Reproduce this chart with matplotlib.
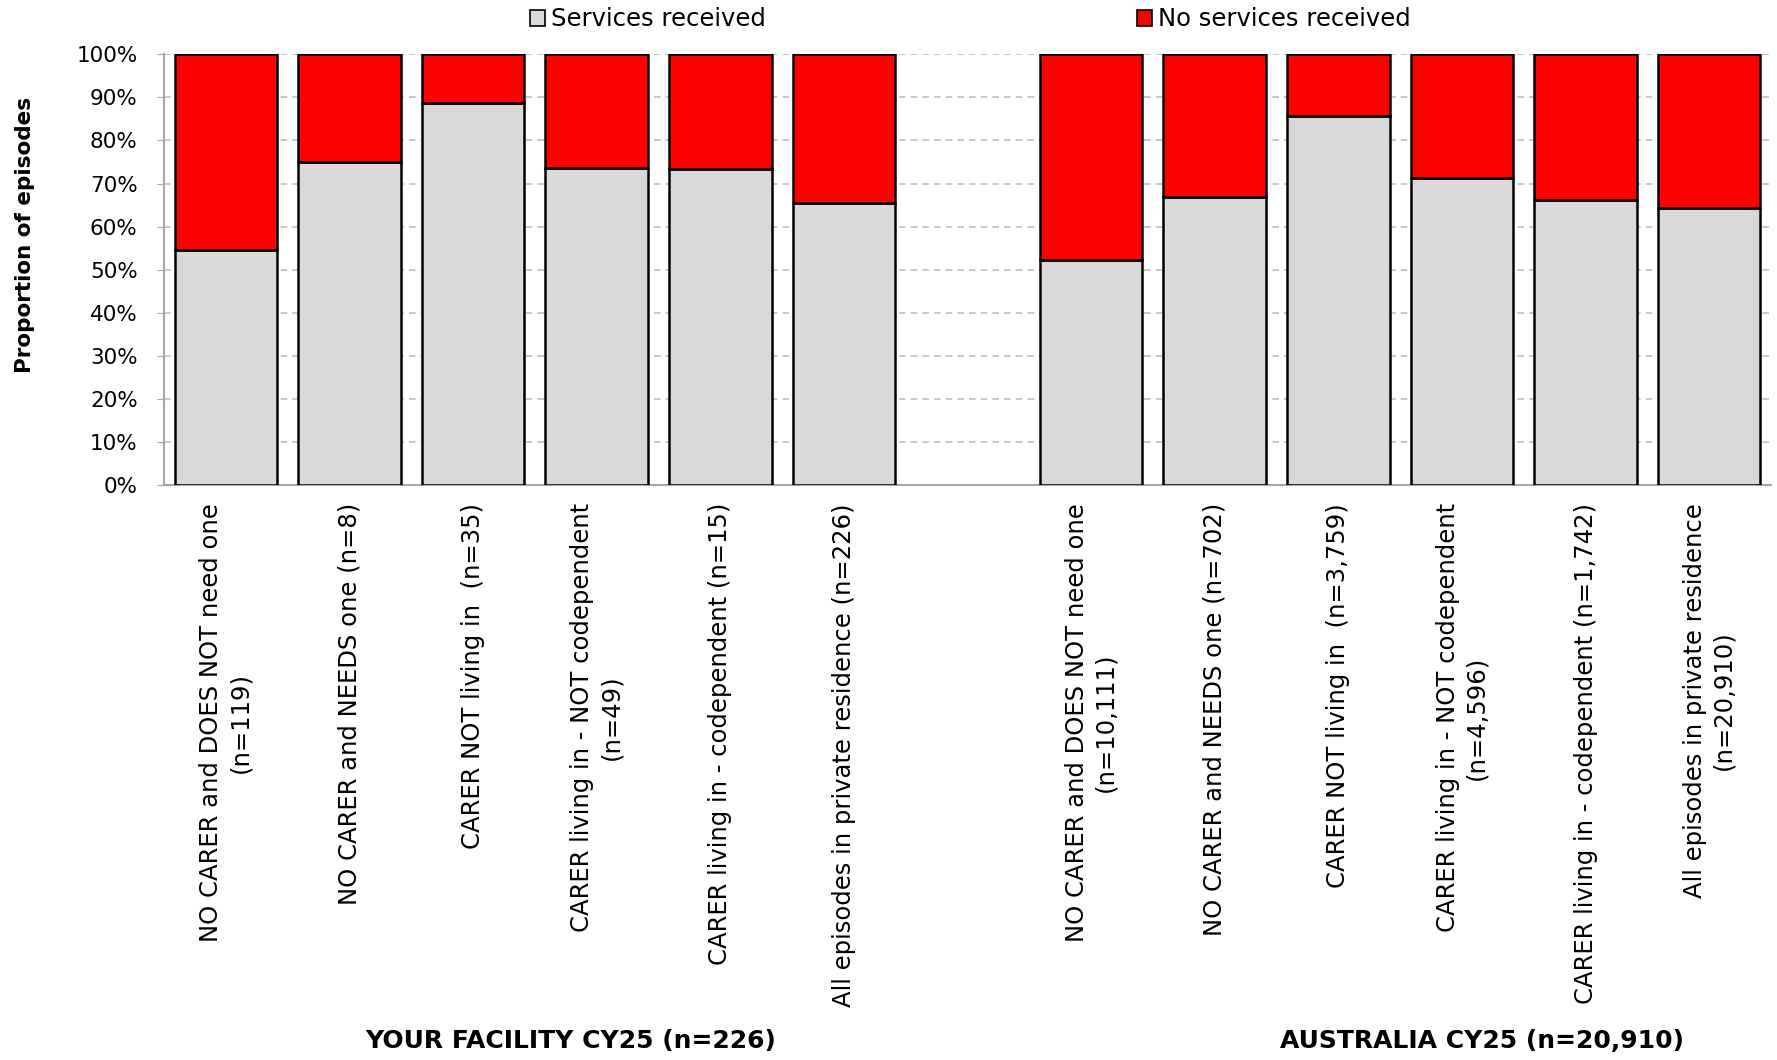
import matplotlib
matplotlib.use('Agg')
import matplotlib.pyplot as plt
from matplotlib.patches import Patch

# data (share of episodes, %)
facility_labels = [
    "NO CARER and DOES NOT need one\n(n=119)",
    "NO CARER and NEEDS one (n=8)",
    "CARER NOT living in  (n=35)",
    "CARER living in - NOT codependent\n(n=49)",
    "CARER living in - codependent (n=15)",
    "All episodes in private residence (n=226)",
]
australia_labels = [
    "NO CARER and DOES NOT need one\n(n=10,111)",
    "NO CARER and NEEDS one (n=702)",
    "CARER NOT living in  (n=3,759)",
    "CARER living in - NOT codependent\n(n=4,596)",
    "CARER living in - codependent (n=1,742)",
    "All episodes in private residence\n(n=20,910)",
]
facility_received = [54.6, 75.0, 88.6, 73.5, 73.3, 65.5]
australia_received = [52.2, 66.8, 85.6, 71.2, 66.1, 64.3]
group_titles = ["YOUR FACILITY CY25 (n=226)", "AUSTRALIA CY25 (n=20,910)"]

grey = '#D9D9D9'
red = '#FF0000'
plt.rcParams['font.family'] = ['DejaVu Sans']

fig = plt.figure(figsize=(17.77, 10.6), dpi=100)
ax = fig.add_axes([0.0923, 0.5425, 0.9043, 0.4062])

pos = list(range(6)) + list(range(7, 13))
labels = facility_labels + australia_labels
received = facility_received + australia_received
not_received = [100 - v for v in received]

ax.bar(pos, received, width=0.83, color=grey, edgecolor='black', linewidth=1.8, zorder=3)
ax.bar(pos, not_received, bottom=received, width=0.83, color=red, edgecolor='black',
       linewidth=1.8, zorder=3)

ax.set_xlim(-0.5, 12.5)
ax.set_ylim(0, 100)
ax.set_yticks(range(0, 101, 10))
ax.set_yticklabels([f"{v}%" for v in range(0, 101, 10)], fontsize=15.5)
ax.set_xticks(pos)
ax.set_xticklabels(labels, rotation=90, fontsize=17.5, ha='center', va='top', linespacing=1.25)
ax.tick_params(axis='x', length=0, pad=13)
ax.tick_params(axis='y', length=5, color='#A6A6A6', pad=14)
ax.yaxis.grid(True, linestyle=(0, (4, 3)), color='#BFBFBF', linewidth=1.2, zorder=0)
ax.spines['top'].set_visible(False)
ax.spines['right'].set_visible(False)
for s in ['left', 'bottom']:
    ax.spines[s].set_color('#A6A6A6')
    ax.spines[s].set_linewidth(1.5)

fig.text(0.014, 0.778, "Proportion of episodes", rotation=90, ha='center', va='center',
         fontsize=15.5, fontweight='bold')

fig.text(0.321, 0.007, group_titles[0], ha='center', va='bottom', fontsize=18, fontweight='bold')
fig.text(0.834, 0.007, group_titles[1], ha='center', va='bottom', fontsize=18, fontweight='bold')

h1 = Patch(facecolor=grey, edgecolor='black', linewidth=1.2)
h2 = Patch(facecolor=red, edgecolor='black', linewidth=1.2)
leg1 = fig.legend([h1], ["Services received"], loc='upper left', bbox_to_anchor=(0.298, 0.993),
                  frameon=False, fontsize=17.5, handlelength=0.62, handleheight=0.62,
                  handletextpad=0.25, borderpad=0, borderaxespad=0)
leg2 = fig.legend([h2], ["No services received"], loc='upper left', bbox_to_anchor=(0.640, 0.993),
                  frameon=False, fontsize=17.5, handlelength=0.62, handleheight=0.62,
                  handletextpad=0.25, borderpad=0, borderaxespad=0)

fig.savefig('out.png', dpi=100)
